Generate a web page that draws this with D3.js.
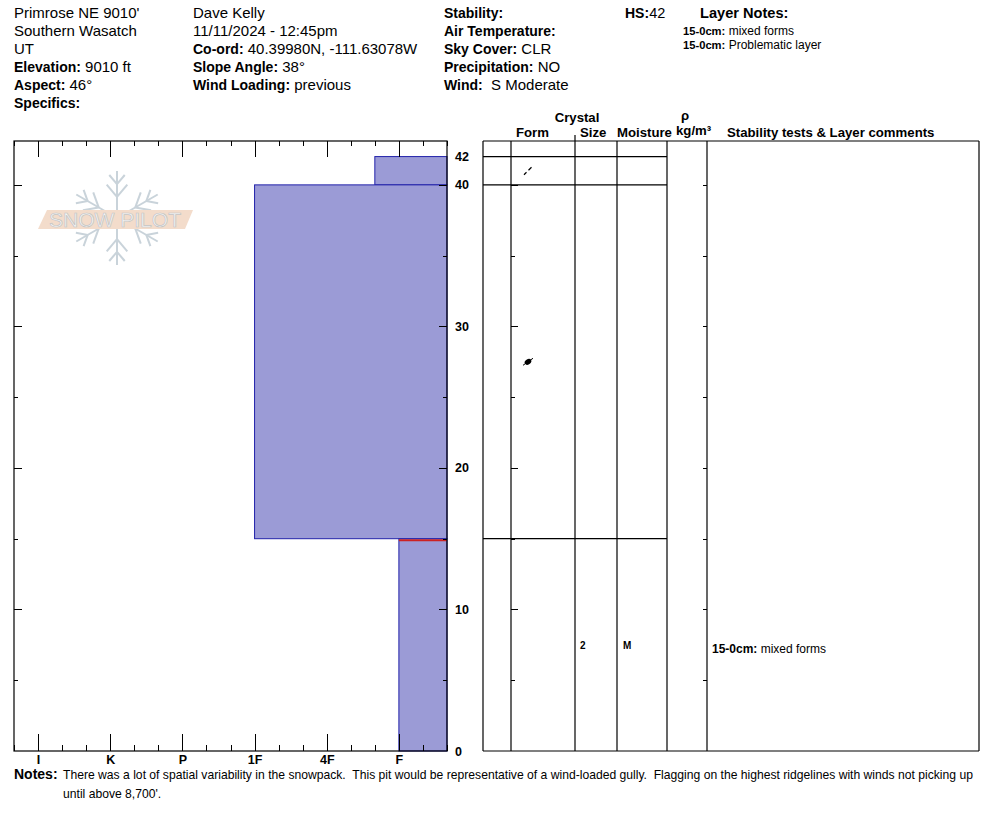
<!DOCTYPE html>
<html>
<head>
  <script src="https://d3js.org/d3.v7.min.js"></script>
  <style>
    body { margin: 0; background: #fff; }
    svg { font-family: Arial, "Liberation Sans", sans-serif; }
    text { white-space: pre; }
    .axis path { display: none; }
    .axis line { stroke: #000; shape-rendering: crispEdges; }
  </style>
</head>
<body>
  <script>
    // ---- data ----
    const layerTop = [42, 40, 15];
    const layerBottom = [40, 15, 0];
    const layerHardness = ["F+", "1F", "F"];
    const layerForm = ["DF", "MFcr", ""];
    const layerSize = ["", "", "2"];
    const layerMoisture = ["", "", "M"];
    const layerComment = [["", ""], ["", ""], ["15-0cm:", " mixed forms"]];
    const problemLayer = 2;

    const hardnessLabels = ["I", "K", "P", "1F", "4F", "F"];
    const hardnessIndex = { F: 1, "4F": 2, "1F": 3, P: 4, K: 5, I: 6 };
    const depthLabels = [0, 10, 20, 30, 40, 42];
    const depthMajor = [10, 20, 30, 40];
    const depthMinor = [5, 15, 25, 35];

    const header1 = [["", "Primrose NE 9010'"], ["", "Southern Wasatch"], ["", "UT"],
                     ["Elevation:", " 9010 ft"], ["Aspect:", " 46°"], ["Specifics:", ""]];
    const header2 = [["", "Dave Kelly"], ["", "11/11/2024 - 12:45pm"], ["Co-ord:", " 40.39980N, -111.63078W"],
                     ["Slope Angle:", " 38°"], ["Wind Loading:", " previous"]];
    const header3 = [["Stability:", ""], ["Air Temperature:", ""], ["Sky Cover:", " CLR"],
                     ["Precipitation:", " NO"], ["Wind:", "  S Moderate"]];
    const layerNotes = [["15-0cm:", " mixed forms"], ["15-0cm:", " Problematic layer"]];
    const notesText = ["There was a lot of spatial variability in the snowpack.  This pit would be representative of a wind-loaded gully.  Flagging on the highest ridgelines with winds not picking up",
                       "until above 8,700'."];

    const W = 994, H = 840;
    const pTop = 141, pBottom = 751;
    const pLeft = 14, pRight = 447;
    const colX = [483, 511, 575, 617, 667, 707, 979];

    const hVal = h => {
      const base = h.replace(/[+-]$/, "");
      let v = hardnessIndex[base];
      if (h.endsWith("+")) v += 1 / 3;
      if (h.endsWith("-")) v -= 1 / 3;
      return v;
    };

    const x = d3.scaleLinear().domain([6 + 1 / 3, 1 / 3]).range([pLeft, pRight]);
    const y = d3.scaleLinear().domain([0, 43.1]).range([pBottom, pTop]);

    const svg = d3.select("body").append("svg")
      .attr("width", W).attr("height", H);

    // ---- header ----
    function block(rows, x0, y0, step, boldSize, regSize) {
      rows.forEach((r, i) => {
        const t = svg.append("text").attr("x", x0).attr("y", y0 + i * step);
        if (r[0]) t.append("tspan").attr("font-weight", "bold").attr("font-size", boldSize).text(r[0]);
        if (r[1]) t.append("tspan").attr("font-size", regSize).text(r[1]);
      });
    }
    block(header1, 14, 18, 18, 14, 15);
    block(header2, 193, 18, 18, 14, 15);
    block(header3, 444, 18, 18, 14, 15);
    block([["HS:", "42"]], 625, 18, 18, 14, 14.5);
    block([["Layer Notes:", ""]], 700, 18, 18, 14.6, 14);
    block(layerNotes, 683, 35, 14, 11.2, 12);

    // ---- logo (watermark) ----
    const logo = svg.append("g");
    const cx = 117, cy = 218, arm = 47;
    d3.range(6).forEach(k => {
      const a = (90 + k * 60) * Math.PI / 180;
      const ex = cx + arm * Math.cos(a), ey = cy - arm * Math.sin(a);
      logo.append("line").attr("x1", cx).attr("y1", cy).attr("x2", ex).attr("y2", ey)
        .attr("stroke", "#c9d3da").attr("stroke-width", 2);
      [[0.45, 16], [0.72, 12]].forEach(([f, len]) => {
        const px = cx + arm * f * Math.cos(a), py = cy - arm * f * Math.sin(a);
        [-1, 1].forEach(s => {
          const b = a + s * 0.7;
          logo.append("line").attr("x1", px).attr("y1", py)
            .attr("x2", px + len * Math.cos(b)).attr("y2", py - len * Math.sin(b))
            .attr("stroke", "#c9d3da").attr("stroke-width", 2);
        });
      });
    });
    logo.append("polygon").attr("points", "38,229 47,210 193,210 185,229")
      .attr("fill", "#f3dccb");
    logo.append("text").attr("x", 115).attr("y", 227).attr("text-anchor", "middle")
      .attr("font-size", 20).attr("textLength", 132).attr("lengthAdjust", "spacingAndGlyphs")
      .attr("fill", "#f4f4f4").attr("stroke", "#c4c4c4").attr("stroke-width", 0.7)
      .text("SNOW PILOT");

    // ---- hardness bars ----
    const idx = d3.range(layerTop.length);
    svg.selectAll("rect.layer").data(idx).enter().append("rect")
      .attr("class", "layer")
      .attr("x", i => x(hVal(layerHardness[i])))
      .attr("y", i => y(layerTop[i]))
      .attr("width", i => pRight - x(hVal(layerHardness[i])))
      .attr("height", i => y(layerBottom[i]) - y(layerTop[i]))
      .attr("fill", "#9b9bd6").attr("stroke", "#2222aa").attr("stroke-width", 1);

    svg.append("line")
      .attr("x1", x(hVal(layerHardness[problemLayer]))).attr("x2", pRight)
      .attr("y1", y(layerTop[problemLayer]) + 1.5).attr("y2", y(layerTop[problemLayer]) + 1.5)
      .attr("stroke", "#cc2222").attr("stroke-width", 2);

    // ---- left chart frame & axes ----
    svg.append("rect").attr("x", pLeft).attr("y", pTop).attr("width", pRight - pLeft)
      .attr("height", pBottom - pTop).attr("fill", "none").attr("stroke", "#000")
      .attr("stroke-width", 1.2);

    const hMajor = hardnessLabels.map(l => hardnessIndex[l]);
    const hMinor = d3.range(0, 19).map(k => 1 / 3 + k / 3).filter(v => Math.abs(v - Math.round(v)) > 0.01);

    const addAxis = (axis, tx, ty) => svg.append("g").attr("class", "axis")
      .attr("transform", `translate(${tx},${ty})`).call(axis);

    addAxis(d3.axisTop(x).tickValues(hMajor).tickSize(17).tickFormat(""), 0, pBottom);
    addAxis(d3.axisTop(x).tickValues(hMinor).tickSize(6).tickFormat(""), 0, pBottom);
    addAxis(d3.axisBottom(x).tickValues(hMajor).tickSize(16).tickFormat(""), 0, pTop);
    addAxis(d3.axisBottom(x).tickValues(hMinor).tickSize(5).tickFormat(""), 0, pTop);
    addAxis(d3.axisBottom(x).tickValues(hMajor).tickSize(0).tickPadding(4)
      .tickFormat((d, i) => hardnessLabels[i]), 0, pBottom)
      .selectAll("text").attr("font-size", 12.5).attr("font-weight", "bold")
      .attr("font-family", "Arial, 'Liberation Sans', sans-serif").attr("fill", "#000");

    addAxis(d3.axisRight(y).tickValues(depthMajor).tickSize(8).tickFormat(""), pLeft, 0);
    addAxis(d3.axisRight(y).tickValues(depthMinor).tickSize(4).tickFormat(""), pLeft, 0);
    addAxis(d3.axisLeft(y).tickValues(depthMajor).tickSize(8).tickFormat(""), pRight, 0);
    addAxis(d3.axisLeft(y).tickValues(depthMinor).tickSize(4).tickFormat(""), pRight, 0);
    addAxis(d3.axisRight(y).tickValues(depthLabels).tickSize(0).tickPadding(8), pRight, 0)
      .selectAll("text").attr("font-size", 12.5).attr("font-weight", "bold")
      .attr("font-family", "Arial, 'Liberation Sans', sans-serif").attr("fill", "#000");

    // ---- table ----
    const tbl = svg.append("g").attr("stroke", "#000").attr("stroke-width", 1.2);
    colX.forEach((cxv, i) => {
      tbl.append("line").attr("x1", cxv).attr("x2", cxv)
        .attr("y1", i === 2 ? pTop - 6 : pTop).attr("y2", pBottom);
    });
    [pTop, pBottom].forEach(v => tbl.append("line").attr("x1", colX[0]).attr("x2", colX[6])
      .attr("y1", v).attr("y2", v));
    const bounds = Array.from(new Set(layerTop.concat(layerBottom))).filter(d => d > 0);
    tbl.selectAll("line.bound").data(bounds).enter().append("line").attr("class", "bound")
      .attr("x1", colX[0]).attr("x2", colX[4])
      .attr("y1", d => y(d)).attr("y2", d => y(d));

    addAxis(d3.axisRight(y).tickValues(depthMajor).tickSize(7).tickFormat(""), colX[1], 0);
    addAxis(d3.axisRight(y).tickValues(depthMinor).tickSize(4).tickFormat(""), colX[1], 0);
    addAxis(d3.axisLeft(y).tickValues(depthMajor).tickSize(4).tickFormat(""), colX[5], 0);
    addAxis(d3.axisLeft(y).tickValues(depthMinor).tickSize(4).tickFormat(""), colX[5], 0);

    // column headers
    const hdr = svg.append("g").attr("font-size", 13.2).attr("font-weight", "bold");
    hdr.append("text").attr("x", 577).attr("y", 122).attr("text-anchor", "middle").text("Crystal");
    hdr.append("text").attr("x", 516).attr("y", 137).text("Form");
    hdr.append("text").attr("x", 580).attr("y", 137).text("Size");
    hdr.append("text").attr("x", 617).attr("y", 137).text("Moisture");
    hdr.append("text").attr("x", 685).attr("y", 120).attr("text-anchor", "middle").text("ρ");
    hdr.append("text").attr("x", 676).attr("y", 135).text("kg/m³");
    hdr.append("text").attr("x", 727).attr("y", 137).text("Stability tests & Layer comments");

    // crystal forms
    idx.forEach(i => {
      const my = y((layerTop[i] + layerBottom[i]) / 2);
      const sx = 528;
      if (layerForm[i] === "DF") {
        svg.append("path").attr("d", `M${sx - 4},${my + 4}L${sx - 1.5},${my + 1.5}M${sx + 0.5},${my - 0.5}L${sx + 3.5},${my - 3.5}`)
          .attr("stroke", "#000").attr("stroke-width", 1.2);
      } else if (layerForm[i] === "MFcr") {
        svg.append("ellipse").attr("cx", sx).attr("cy", my).attr("rx", 3.6).attr("ry", 2.6)
          .attr("transform", `rotate(-35,${sx},${my})`).attr("fill", "#000");
        svg.append("line").attr("x1", sx - 5).attr("y1", my + 3.5).attr("x2", sx + 5).attr("y2", my - 3.5)
          .attr("stroke", "#000").attr("stroke-width", 1);
      }
      if (layerSize[i]) svg.append("text").attr("x", 580).attr("y", my + 4)
        .attr("font-size", 10).attr("font-weight", "bold").text(layerSize[i]);
      if (layerMoisture[i]) svg.append("text").attr("x", 623).attr("y", my + 4)
        .attr("font-size", 10).attr("font-weight", "bold").text(layerMoisture[i]);
      if (layerComment[i][0]) {
        const t = svg.append("text").attr("x", 712).attr("y", my + 8).attr("font-size", 12);
        t.append("tspan").attr("font-weight", "bold").text(layerComment[i][0]);
        t.append("tspan").text(layerComment[i][1]);
      }
    });

    // ---- notes ----
    svg.append("text").attr("x", 14).attr("y", 779).attr("font-size", 14)
      .attr("font-weight", "bold").text("Notes:");
    notesText.forEach((s, i) => svg.append("text").attr("x", 63).attr("y", 779 + i * 19)
      .attr("font-size", 12.15).text(s));
  </script>
</body>
</html>
